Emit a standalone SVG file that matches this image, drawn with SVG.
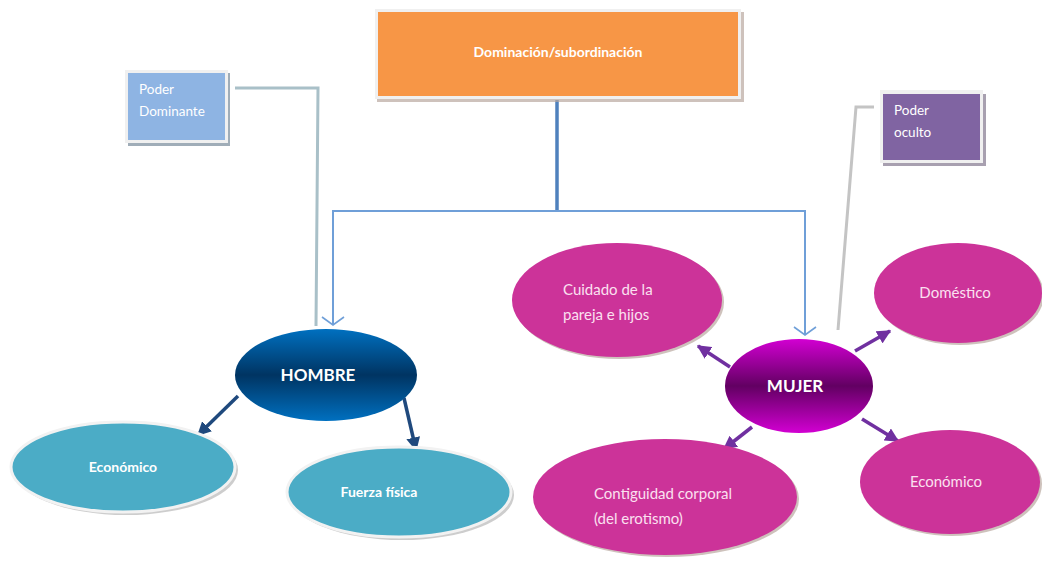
<svg xmlns="http://www.w3.org/2000/svg" width="1042" height="567" viewBox="0 0 1042 567">
<defs>
<linearGradient id="gH" x1="0" y1="0" x2="0" y2="1">
<stop offset="0" stop-color="#0070c0"/><stop offset="0.5" stop-color="#003462"/><stop offset="1" stop-color="#0070c0"/>
</linearGradient>
<linearGradient id="gM" x1="0" y1="0" x2="0" y2="1">
<stop offset="0" stop-color="#d200d2"/><stop offset="0.5" stop-color="#620062"/><stop offset="1" stop-color="#d200d2"/>
</linearGradient>
<marker id="aB" viewBox="0 0 10 10" refX="9" refY="5" markerWidth="4" markerHeight="4" orient="auto" markerUnits="strokeWidth">
<path d="M0,0 L10,5 L0,10 z" fill="#1f497d"/>
</marker>
<marker id="aP" viewBox="0 0 10 10" refX="9" refY="5" markerWidth="4" markerHeight="4" orient="auto" markerUnits="strokeWidth">
<path d="M0,0 L10,5 L0,10 z" fill="#7030a0"/>
</marker>
<marker id="aV" viewBox="0 0 10 24" refX="9" refY="12" markerWidth="10" markerHeight="24" orient="auto-start-reverse" markerUnits="userSpaceOnUse">
<path d="M1,1 L9,12 L1,23" fill="none" stroke="#6f9fd8" stroke-width="1.6"/>
</marker>
</defs>
<style>
text{font-family:Lato,"Open Sans","Liberation Sans",sans-serif;fill:#ffffff}
.b{font-weight:bold;font-size:14px}
.r{font-size:13.5px}
.p{fill:#fbe0f0;font-size:15px}
.big{font-weight:bold;font-size:17px}
.sh{fill:#b9a8a0;opacity:0.7}
.shc{fill:#c0c0c0;opacity:0.8}
.lc{fill:#4bacc6;stroke:#f2f2f2;stroke-width:3}
.mg{fill:#cc3399;stroke:none}
.tree{fill:none;stroke:#6f9fd8;stroke-width:2}
.call{fill:none;stroke:#a9c0c8;stroke-width:3}
.callg{fill:none;stroke:#c4c4c4;stroke-width:3}
.ab{stroke:#1f497d;stroke-width:3.5;fill:none}
.ap{stroke:#7030a0;stroke-width:3.5;fill:none}
</style>
<rect width="1042" height="567" fill="#ffffff"/>
<g id="connectors">
<line x1="557" y1="100" x2="557" y2="211" stroke="#4f81bd" stroke-width="3.5"/>
<polyline class="tree" points="333,325 333,211 805,211 805,335" marker-start="url(#aV)" marker-end="url(#aV)"/>
<polyline class="call" points="235,88 318,88 316,326"/>
<polyline class="callg" points="874,107 856,107 838,330"/>
<line class="ab" x1="238" y1="396" x2="198" y2="435" marker-end="url(#aB)"/>
<line class="ab" x1="404" y1="398" x2="416" y2="450" marker-end="url(#aB)"/>
<line class="ap" x1="730" y1="367" x2="698" y2="346" marker-end="url(#aP)"/>
<line class="ap" x1="855" y1="351" x2="890" y2="331" marker-end="url(#aP)"/>
<line class="ap" x1="862" y1="419" x2="898" y2="441" marker-end="url(#aP)"/>
<line class="ap" x1="752" y1="427" x2="724" y2="449" marker-end="url(#aP)"/>
</g>
<g id="dominacion">
<rect x="377" y="12" width="367" height="90" class="sh"/>
<rect x="375" y="9" width="366" height="90" fill="#f0f0f0"/>
<rect x="378" y="12" width="360" height="84" fill="#f79646"/>
<text class="b" x="558" y="57" text-anchor="middle">Dominación/subordinación</text>
</g>
<g id="poder-dominante">
<rect x="128" y="73" width="102" height="73" fill="#a0adb8"/>
<rect x="125" y="70" width="103" height="73" fill="#f0f0f0"/>
<rect x="128" y="73" width="97" height="67" fill="#8eb4e3"/>
<text class="r" x="139" y="94">Poder</text>
<text class="r" x="139" y="116">Dominante</text>
</g>
<g id="poder-oculto">
<rect x="883" y="94" width="103" height="72" fill="#a8a0b0"/>
<rect x="880" y="90" width="103" height="73" fill="#f0f0f0"/>
<rect x="883" y="94" width="97" height="66" fill="#8064a2"/>
<text class="r" x="894" y="115">Poder</text>
<text class="r" x="894" y="137">oculto</text>
</g>
<g id="hombre">
<ellipse cx="326" cy="375" rx="91" ry="46" fill="url(#gH)"/>
<text class="big" x="318" y="381" text-anchor="middle">HOMBRE</text>
</g>
<g id="mujer">
<ellipse cx="799" cy="386" rx="74" ry="47" fill="url(#gM)"/>
<text class="big" x="795" y="392" text-anchor="middle">MUJER</text>
</g>
<g id="economico-h">
<ellipse cx="126" cy="470" rx="112" ry="45" class="shc"/>
<ellipse cx="123" cy="467" rx="112" ry="45" class="lc"/>
<text class="b" x="123" y="472" text-anchor="middle">Económico</text>
</g>
<g id="fuerza">
<ellipse cx="402" cy="495" rx="112" ry="45" class="shc"/>
<ellipse cx="399" cy="492" rx="112" ry="45" class="lc"/>
<text class="b" x="379" y="497" text-anchor="middle">Fuerza física</text>
</g>
<g id="cuidado">
<ellipse cx="619" cy="302" rx="105" ry="57" class="sh"/>
<ellipse cx="617" cy="300" rx="105" ry="57" class="mg"/>
<text class="p" x="563" y="295">Cuidado de la</text>
<text class="p" x="563" y="320">pareja e hijos</text>
</g>
<g id="domestico">
<ellipse cx="960" cy="295" rx="84" ry="50" class="sh"/>
<ellipse cx="958" cy="293" rx="84" ry="50" class="mg"/>
<text class="p" x="955" y="298" text-anchor="middle">Doméstico</text>
</g>
<g id="economico-m">
<ellipse cx="952" cy="484" rx="90" ry="52" class="sh"/>
<ellipse cx="950" cy="482" rx="90" ry="52" class="mg"/>
<text class="p" x="946" y="487" text-anchor="middle">Económico</text>
</g>
<g id="contiguidad">
<ellipse cx="667" cy="499" rx="132" ry="58" class="sh"/>
<ellipse cx="665" cy="497" rx="132" ry="58" class="mg"/>
<text class="p" x="594" y="499">Contiguidad corporal</text>
<text class="p" x="594" y="524">(del erotismo)</text>
</g>
</svg>
